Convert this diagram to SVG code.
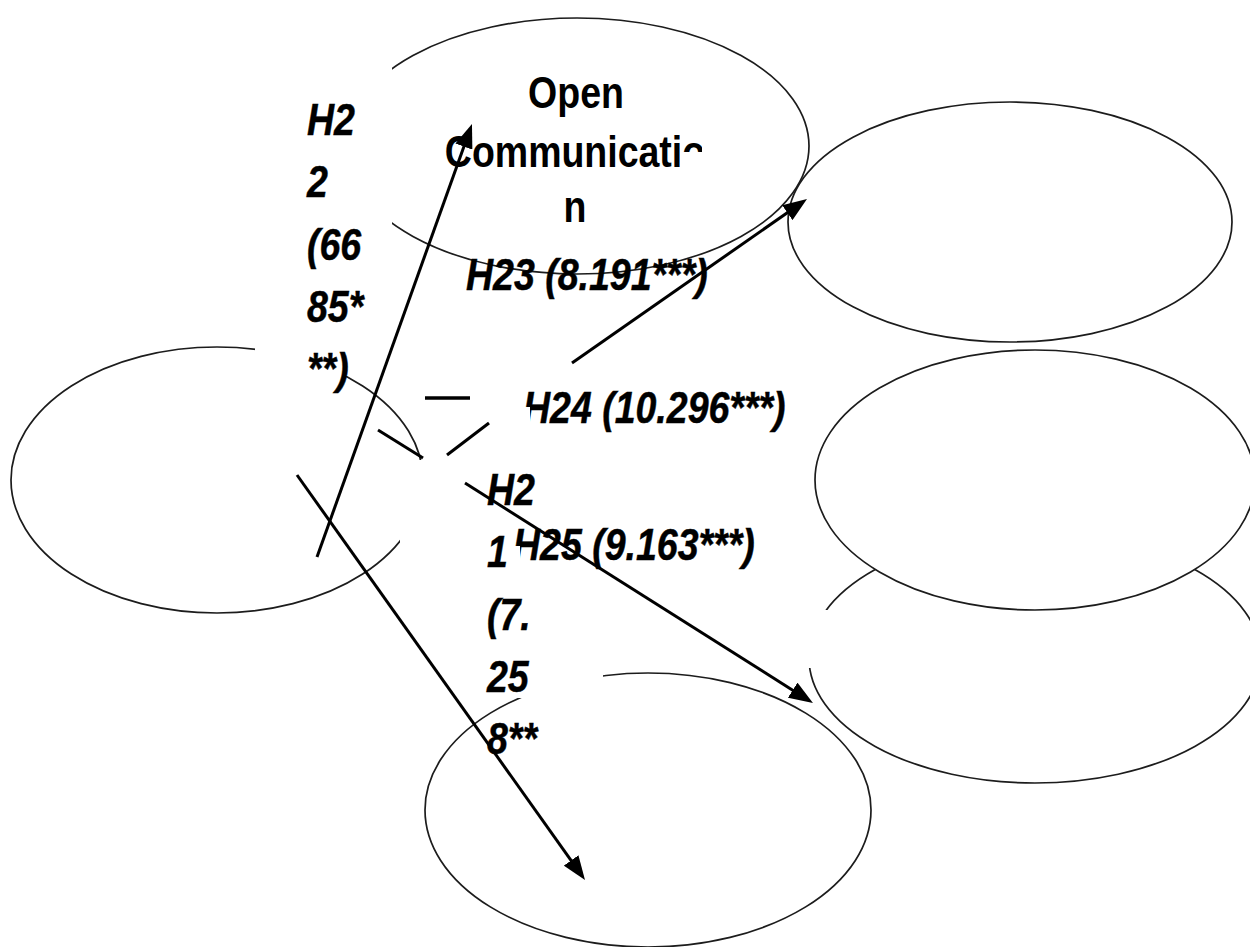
<svg xmlns="http://www.w3.org/2000/svg" width="1250" height="947" viewBox="0 0 1250 947">
  <defs>
    <style>
      .node { fill: none; stroke: #1c1c1c; stroke-width: 1.7; }
      .node.solid { fill: #fff; }
      .cover { fill: #fff; stroke: none; }
      .lbl { font-family: "Liberation Sans", Arial, sans-serif; font-size: 37.5px; font-weight: bold; font-style: italic; fill: #000; stroke: #000; stroke-width: 0.4; }
      .ttl { font-family: "Liberation Sans", Arial, sans-serif; font-size: 37.5px; font-weight: bold; fill: #000; text-anchor: middle; }
      .edge { stroke: #000; stroke-width: 3; fill: none; }
      .arrow { marker-end: url(#head); }
    </style>
    <marker id="head" viewBox="0 0 24 18" refX="14" refY="9" markerWidth="24" markerHeight="18" markerUnits="userSpaceOnUse" orient="auto">
      <path d="M0,0 L24,9 L0,18 z" fill="#000"/>
    </marker>
    <clipPath id="clipComm">
      <rect x="400" y="110" width="280" height="70"/>
      <rect x="683" y="142" width="19" height="10"/>
    </clipPath>
  </defs>

  <!-- nodes -->
  <g id="open-communication">
    <ellipse class="node" cx="577" cy="146" rx="232" ry="128"/>
    <text class="ttl" transform="translate(576 108) scale(1 1.2)">Open</text>
    <g clip-path="url(#clipComm)">
      <text class="ttl" transform="translate(575 167) scale(1 1.2)">Communicatio</text>
    </g>
    <text class="ttl" transform="translate(575 222) scale(1 1.2)">n</text>
  </g>
  <g id="left-node">
    <ellipse class="node" cx="217" cy="480" rx="206" ry="133"/>
  </g>
  <g id="bottom-node">
    <ellipse class="node" cx="648" cy="810" rx="223" ry="137"/>
  </g>
  <g id="right-node-3">
    <ellipse class="node" cx="1035" cy="658" rx="226" ry="125"/>
  </g>
  <g id="right-node-2">
    <ellipse class="node solid" cx="1035" cy="480" rx="220" ry="130"/>
  </g>
  <g id="right-node-1">
    <ellipse class="node solid" cx="1010" cy="222" rx="222" ry="120"/>
  </g>

  <!-- label text boxes (white backgrounds) -->
  <g id="label-boxes">
    <rect class="cover" x="255" y="62" width="137" height="314"/>
    <rect class="cover" x="400" y="460" width="203" height="238"/>
    <rect class="cover" x="800" y="610" width="29" height="58"/>
  </g>

  <!-- path coefficient labels -->
  <g id="labels">
    <g id="label-h22">
      <text class="lbl" transform="translate(307 135) scale(1 1.2)">H2</text>
      <text class="lbl" transform="translate(307 197) scale(1 1.2)">2</text>
      <text class="lbl" transform="translate(307 260) scale(1 1.2)">(66</text>
      <text class="lbl" transform="translate(307 322) scale(1 1.2)">85*</text>
      <text class="lbl" transform="translate(307 384) scale(1 1.2)">**)</text>
    </g>
    <text id="label-h23" class="lbl" transform="translate(466 290) scale(1 1.2)">H23 (8.191***)</text>
    <text id="label-h24" class="lbl" transform="translate(523 423) scale(1 1.2)">H24 (10.296***)</text>
    <g id="label-h21">
      <text class="lbl" transform="translate(487 505) scale(1 1.2)">H2</text>
      <text class="lbl" transform="translate(487 567) scale(1 1.2)">1</text>
      <text class="lbl" transform="translate(487 630) scale(1 1.2)">(7.</text>
      <text class="lbl" transform="translate(487 692) scale(1 1.2)">25</text>
      <text class="lbl" transform="translate(487 754) scale(1 1.2)">8**</text>
    </g>
    <text id="label-h25" class="lbl" transform="translate(513 560) scale(1 1.2)">H25 (9.163***)</text>
    <!-- overlapping boxes trim the lower-left stems -->
    <rect class="cover" x="517" y="407" width="13" height="20"/>
    <rect class="cover" x="507" y="546" width="13" height="18"/>
  </g>

  <!-- connectors -->
  <g id="connectors">
    <line class="edge arrow" x1="317" y1="557" x2="468.6" y2="133.4"/>
    <line class="edge arrow" x1="572" y1="363" x2="798.8" y2="204.7"/>
    <line class="edge arrow" x1="465" y1="483" x2="804.5" y2="697.7"/>
    <line class="edge arrow" x1="297" y1="475" x2="579.2" y2="871.9"/>
    <line class="edge" x1="378" y1="430" x2="423" y2="458"/>
    <line class="edge" x1="425" y1="398" x2="470" y2="398" style="stroke-width:3.5"/>
    <line class="edge" x1="447" y1="455" x2="489" y2="423"/>
  </g>
</svg>
